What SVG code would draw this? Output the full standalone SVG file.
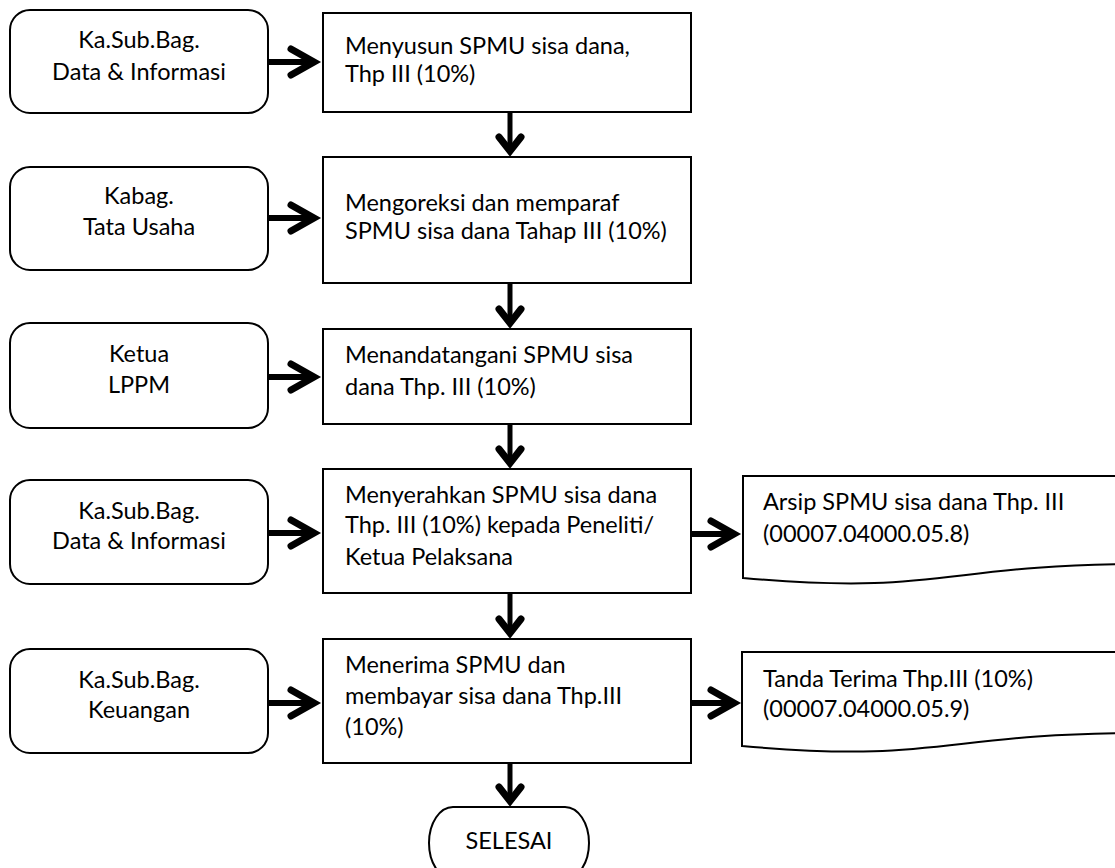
<svg xmlns="http://www.w3.org/2000/svg" width="1115" height="868" viewBox="0 0 1115 868">
<style>
  .bg { fill: #ffffff; }
  .actor { fill: #ffffff; stroke: #000000; stroke-width: 2; }
  .proc { fill: #ffffff; stroke: #000000; stroke-width: 2; }
  .doc { fill: #ffffff; stroke: #000000; stroke-width: 2; }
  .t { font-family: Lato, "Open Sans", "Liberation Sans", sans-serif; font-size: 23.5px; fill: #000000; }
  .c { text-anchor: middle; }
  .shaft { fill: none; stroke: #000000; stroke-width: 6; }
  .vshaft { fill: none; stroke: #000000; stroke-width: 5; }
  .head { fill: none; stroke: #000000; stroke-width: 7; stroke-linecap: round; stroke-linejoin: miter; stroke-miterlimit: 10; }
</style>
<rect class="bg" x="0" y="0" width="1115" height="868"/>

<g id="connectors">
  <!-- actor to process -->
  <path class="shaft" d="M268,62 H312"/>
  <path class="head" d="M291,49 L314,62 L291,75"/>
  <path class="shaft" d="M268,218 H312"/>
  <path class="head" d="M291,205 L314,218 L291,231"/>
  <path class="shaft" d="M268,377 H312"/>
  <path class="head" d="M291,364 L314,377 L291,390"/>
  <path class="shaft" d="M268,533 H312"/>
  <path class="head" d="M291,520 L314,533 L291,546"/>
  <path class="shaft" d="M268,703 H312"/>
  <path class="head" d="M291,690 L314,703 L291,716"/>
  <!-- process to document -->
  <path class="shaft" d="M691,534 H732"/>
  <path class="head" d="M711,521 L734,534 L711,547"/>
  <path class="shaft" d="M691,703 H732"/>
  <path class="head" d="M711,690 L734,703 L711,716"/>
  <!-- vertical flow -->
  <path class="vshaft" d="M510,112 V150"/>
  <path class="head" d="M499,137 L510,151 L521,137"/>
  <path class="vshaft" d="M510,283 V322"/>
  <path class="head" d="M499,309 L510,323 L521,309"/>
  <path class="vshaft" d="M510,424 V462"/>
  <path class="head" d="M499,449 L510,463 L521,449"/>
  <path class="vshaft" d="M510,593 V632"/>
  <path class="head" d="M499,619 L510,633 L521,619"/>
  <path class="vshaft" d="M510,763 V800"/>
  <path class="head" d="M499,787 L510,801 L521,787"/>
</g>

<g id="actor1">
  <rect class="actor" x="10" y="10" width="258" height="103" rx="20" ry="20"/>
  <text class="t c" x="139" y="48">Ka.Sub.Bag.</text>
  <text class="t c" x="139" y="80">Data &amp; Informasi</text>
</g>
<g id="actor2">
  <rect class="actor" x="10" y="167" width="258" height="103" rx="20" ry="20"/>
  <text class="t c" x="139" y="204">Kabag.</text>
  <text class="t c" x="139" y="235">Tata Usaha</text>
</g>
<g id="actor3">
  <rect class="actor" x="10" y="323" width="258" height="105" rx="20" ry="20"/>
  <text class="t c" x="139" y="362">Ketua</text>
  <text class="t c" x="139" y="393">LPPM</text>
</g>
<g id="actor4">
  <rect class="actor" x="10" y="480" width="258" height="104" rx="20" ry="20"/>
  <text class="t c" x="139" y="519">Ka.Sub.Bag.</text>
  <text class="t c" x="139" y="549">Data &amp; Informasi</text>
</g>
<g id="actor5">
  <rect class="actor" x="10" y="649" width="258" height="104" rx="20" ry="20"/>
  <text class="t c" x="139" y="688">Ka.Sub.Bag.</text>
  <text class="t c" x="139" y="718">Keuangan</text>
</g>

<g id="step1">
  <rect class="proc" x="323" y="13" width="368" height="99"/>
  <text class="t" x="345" y="54">Menyusun SPMU sisa dana,</text>
  <text class="t" x="345" y="82">Thp III (10%)</text>
</g>
<g id="step2">
  <rect class="proc" x="323" y="157" width="368" height="126"/>
  <text class="t" x="345" y="211">Mengoreksi dan memparaf</text>
  <text class="t" x="345" y="239">SPMU sisa dana Tahap III (10%)</text>
</g>
<g id="step3">
  <rect class="proc" x="323" y="329" width="368" height="95"/>
  <text class="t" x="345" y="363">Menandatangani SPMU sisa</text>
  <text class="t" x="345" y="395">dana Thp. III (10%)</text>
</g>
<g id="step4">
  <rect class="proc" x="323" y="469" width="368" height="124"/>
  <text class="t" x="345" y="503">Menyerahkan SPMU sisa dana</text>
  <text class="t" x="345" y="533">Thp. III (10%) kepada Peneliti/</text>
  <text class="t" x="345" y="565">Ketua Pelaksana</text>
</g>
<g id="step5">
  <rect class="proc" x="323" y="639" width="368" height="124"/>
  <text class="t" x="345" y="673">Menerima SPMU dan</text>
  <text class="t" x="345" y="704">membayar sisa dana Thp.III</text>
  <text class="t" x="345" y="735">(10%)</text>
</g>

<g id="doc1">
  <path class="doc" d="M743,476 H1143 V564 C943,564 943,596 743,578 Z"/>
  <text class="t" x="763" y="510">Arsip SPMU sisa dana Thp. III</text>
  <text class="t" x="763" y="542">(00007.04000.05.8)</text>
</g>
<g id="doc2">
  <path class="doc" d="M742,652 H1142 V733 C942,733 942,764 742,746 Z"/>
  <text class="t" x="763" y="687">Tanda Terima Thp.III (10%)</text>
  <text class="t" x="763" y="717">(00007.04000.05.9)</text>
</g>

<g id="end">
  <rect class="proc" x="429" y="807" width="160" height="72" rx="24" ry="36"/>
  <text class="t c" x="509" y="849">SELESAI</text>
</g>
</svg>
